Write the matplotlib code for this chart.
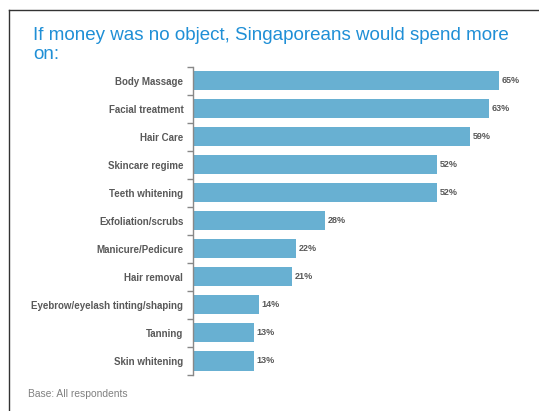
import matplotlib.pyplot as plt
from matplotlib.lines import Line2D
import numpy as np

plt.rcParams["font.family"] = ["Liberation Sans", "DejaVu Sans"]

# 支出項目と回答率(%)
categories = [
    "Body Massage",
    "Facial treatment",
    "Hair Care",
    "Skincare regime",
    "Teeth whitening",
    "Exfoliation/scrubs",
    "Manicure/Pedicure",
    "Hair removal",
    "Eyebrow/eyelash tinting/shaping",
    "Tanning",
    "Skin whitening",
]
values = [65, 63, 59, 52, 52, 28, 22, 21, 14, 13, 13]

title = "If money was no object, Singaporeans would spend more\non:"
footnote = "Base: All respondents"

bar_color = "#68B0D2"
text_gray = "#595959"
title_blue = "#1F8FD6"

W, H = 539, 411
fig = plt.figure(figsize=(W / 100, H / 100), dpi=100)

# 軸の位置はピクセルで指定
left, right, top, bottom = 193, 522, 66.7, 375
ax = fig.add_axes([left / W, 1 - bottom / H, (right - left) / W, (bottom - top) / H])

y = np.arange(len(categories))
ax.barh(y, values, height=0.68, color=bar_color)

for yi, v in zip(y, values):
    ax.text(v + 0.6, yi, f"{v}%", va="center", ha="left",
            fontsize=6.5, fontweight="bold", color=text_gray)

ax.set_xlim(0, 70)
ax.set_ylim(len(categories) - 0.5, -0.5)

ax.set_yticks(y)
ax.set_yticklabels(categories, fontsize=7, fontweight="bold", color=text_gray)
ax.tick_params(axis="y", which="major", length=0, pad=7)
ax.set_yticks(np.arange(len(categories) + 1) - 0.5, minor=True)
ax.tick_params(axis="y", which="minor", length=4, width=1, color="#888888", direction="out")
ax.set_xticks([])

for s in ["top", "right", "bottom"]:
    ax.spines[s].set_visible(False)
ax.spines["left"].set_color("#888888")
ax.spines["left"].set_linewidth(1)

# タイトルと注記
fig.text(33 / W, 1 - 27 / H, title, fontsize=13.5, color=title_blue,
         ha="left", va="top", linespacing=1.15)
fig.text(28 / W, 1 - 394 / H, footnote, fontsize=7.4, color="#808080",
         ha="left", va="center")

# 外枠(左と上)
fig.add_artist(Line2D([8.5 / W, 8.5 / W], [0, 1 - 10 / H], transform=fig.transFigure,
                      color="#333333", linewidth=1))
fig.add_artist(Line2D([8.5 / W, 538 / W], [1 - 10 / H, 1 - 10 / H], transform=fig.transFigure,
                      color="#333333", linewidth=1))

fig.savefig("out.png", dpi=100)
plt.close(fig)
